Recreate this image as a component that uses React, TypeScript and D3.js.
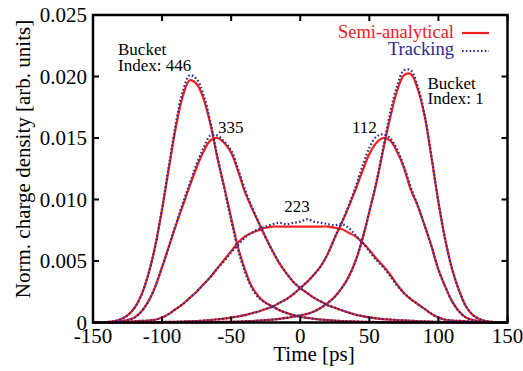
import React from "react";
import * as d3 from "d3";

// ---- data ----
const TIME = [
  -150, -145, -140, -135, -130, -125, -120, -115, -110, -105, -100, -95, -90, -85, -80, -75, -70, -65, -60, -55,
  -50, -45, -40, -35, -30, -25, -20, -15, -10, -5, 0, 5, 10, 15, 20, 25, 30, 35, 40, 45,
  50, 55, 60, 65, 70, 75, 80, 85, 90, 95, 100, 105, 110, 115, 120, 125, 130, 135, 140, 145, 150,
];

const SEMI_446 = [
  0, 0.00001, 0.00004, 0.0001, 0.00026, 0.00058, 0.00118, 0.00223, 0.0039, 0.0062, 0.0092, 0.0126, 0.0159, 0.0184, 0.0197, 0.0194, 0.0182, 0.0161, 0.0134, 0.011,
  0.0085, 0.0061, 0.0043, 0.0029, 0.0021, 0.0016, 0.0013, 0.001, 0.00078, 0.0006, 0.00047, 0.00038, 0.0003, 0.00024, 0.00019, 0.00015, 0.00012, 0.0001, 0.00008, 0.00006,
  0.00005, 0.00004, 0.00003, 0.00002, 0.00001, 0, 0, 0, 0, 0, 0, 0, 0, 0, 0, 0, 0, 0, 0, 0, 0,
];
const SEMI_335 = [
  0, 0.00001, 0.00002, 0.00005, 0.0001, 0.0002, 0.0004, 0.0009, 0.0017, 0.0029, 0.0045, 0.0062, 0.0079, 0.0095, 0.0111, 0.0126, 0.0139, 0.0148, 0.015, 0.0146,
  0.0138, 0.0123, 0.0106, 0.0093, 0.0081, 0.0069, 0.0058, 0.0048, 0.004, 0.0033, 0.0028, 0.0024, 0.002, 0.0017, 0.0014, 0.0012, 0.001, 0.0008, 0.00064, 0.00052,
  0.00042, 0.00034, 0.00028, 0.00024, 0.0002, 0.00017, 0.00014, 0.00011, 0.00009, 0.00007, 0.00005, 0.00004, 0.00003, 0.00002, 0.00002, 0.00001, 0.00001, 0, 0, 0, 0,
];
const SEMI_223 = [
  0, 0, 0.00001, 0.00002, 0.00004, 0.00006, 0.0001, 0.00013, 0.00016, 0.00022, 0.0004, 0.0007, 0.0011, 0.0015, 0.002, 0.0025, 0.0031, 0.0037, 0.0044, 0.0051,
  0.0058, 0.0065, 0.007, 0.0073, 0.0075, 0.0077, 0.0078, 0.0078, 0.0078, 0.0078, 0.0078, 0.0078, 0.0078, 0.0078, 0.0078, 0.0077, 0.0076, 0.0073, 0.007, 0.0065,
  0.0059, 0.0052, 0.0046, 0.0039, 0.0031, 0.0024, 0.0019, 0.0015, 0.0011, 0.0007, 0.0004, 0.00022, 0.00016, 0.00013, 0.0001, 0.00006, 0.00004, 0.00002, 0.00001, 0, 0,
];
const SEMI_112 = [
  0, 0, 0, 0, 0, 0.00001, 0.00001, 0.00002, 0.00002, 0.00003, 0.00004, 0.00005, 0.00006, 0.00008, 0.0001, 0.00012, 0.00015, 0.0002, 0.00026, 0.00032,
  0.0004, 0.0005, 0.0006, 0.00075, 0.0009, 0.0011, 0.0013, 0.0016, 0.0019, 0.0023, 0.0028, 0.0033, 0.0039, 0.0046, 0.0056, 0.0069, 0.0081, 0.0094, 0.0108, 0.0123,
  0.0137, 0.0146, 0.015, 0.0148, 0.0139, 0.0126, 0.0108, 0.0095, 0.0079, 0.0062, 0.0043, 0.0029, 0.0017, 0.0009, 0.0004, 0.0002, 0.0001, 0.00005, 0.00002, 0.00001, 0,
];
const SEMI_1 = [
  0, 0, 0, 0, 0, 0, 0, 0, 0, 0, 0, 0, 0, 0, 0, 0.00001, 0.00002, 0.00003, 0.00004, 0.00005,
  0.00006, 0.00008, 0.0001, 0.00012, 0.00015, 0.00019, 0.00024, 0.0003, 0.00038, 0.00047, 0.00058, 0.0007, 0.0009, 0.0012, 0.0016, 0.0021, 0.0028, 0.0037, 0.005, 0.0068,
  0.009, 0.0113, 0.014, 0.0166, 0.0188, 0.0201, 0.0202, 0.019, 0.0168, 0.0134, 0.0098, 0.0067, 0.0043, 0.0026, 0.0013, 0.0006, 0.00026, 0.0001, 0.00004, 0.00001, 0,
];

const TRACK_446 = [
  0, 0.00001, 0.00004, 0.0001, 0.00026, 0.00058, 0.00118, 0.00223, 0.0039, 0.0062, 0.0093, 0.0128, 0.0162, 0.0188, 0.0201, 0.0198, 0.0185, 0.0163, 0.0135, 0.0109,
  0.0083, 0.0059, 0.0041, 0.0028, 0.002, 0.0016, 0.0013, 0.001, 0.00078, 0.0006, 0.00047, 0.00038, 0.0003, 0.00024, 0.00019, 0.00015, 0.00012, 0.0001, 0.00008, 0.00006,
  0.00005, 0.00004, 0.00003, 0.00002, 0.00001, 0, 0, 0, 0, 0, 0, 0, 0, 0, 0, 0, 0, 0, 0, 0, 0,
];
const TRACK_335 = [
  0, 0.00001, 0.00002, 0.00005, 0.0001, 0.0002, 0.0004, 0.0009, 0.0017, 0.0029, 0.0045, 0.0062, 0.008, 0.0097, 0.0113, 0.0129, 0.0142, 0.0152, 0.0152, 0.0147,
  0.014, 0.0125, 0.0108, 0.0094, 0.0081, 0.0069, 0.0058, 0.0048, 0.004, 0.0033, 0.0028, 0.0024, 0.002, 0.0017, 0.0014, 0.0012, 0.001, 0.0008, 0.00064, 0.00052,
  0.00042, 0.00034, 0.00028, 0.00024, 0.0002, 0.00017, 0.00014, 0.00011, 0.00009, 0.00007, 0.00005, 0.00004, 0.00003, 0.00002, 0.00002, 0.00001, 0.00001, 0, 0, 0, 0,
];
const TRACK_223 = [
  0, 0, 0.00001, 0.00002, 0.00004, 0.00006, 0.0001, 0.00013, 0.00016, 0.00022, 0.0004, 0.0007, 0.0011, 0.0015, 0.002, 0.0025, 0.0031, 0.0037, 0.0044, 0.005,
  0.0057, 0.0063, 0.0069, 0.0073, 0.0076, 0.0078, 0.008, 0.0081, 0.008, 0.0081, 0.0082, 0.0084, 0.0082, 0.0081, 0.008, 0.0079, 0.008, 0.0077, 0.0071, 0.0065,
  0.0058, 0.0051, 0.0045, 0.0038, 0.003, 0.0024, 0.0019, 0.0015, 0.0011, 0.0007, 0.0004, 0.00022, 0.00016, 0.00013, 0.0001, 0.00006, 0.00004, 0.00002, 0.00001, 0, 0,
];
const TRACK_112 = [
  0, 0, 0, 0, 0, 0.00001, 0.00001, 0.00002, 0.00002, 0.00003, 0.00004, 0.00005, 0.00006, 0.00008, 0.0001, 0.00012, 0.00015, 0.0002, 0.00026, 0.00032,
  0.0004, 0.0005, 0.0006, 0.00075, 0.0009, 0.0011, 0.0013, 0.0016, 0.0019, 0.0023, 0.0028, 0.0033, 0.0039, 0.0046, 0.0056, 0.0069, 0.0081, 0.0095, 0.011, 0.0127,
  0.0142, 0.0151, 0.0153, 0.015, 0.0141, 0.0127, 0.011, 0.0095, 0.0079, 0.0062, 0.0043, 0.0029, 0.0017, 0.0009, 0.0004, 0.0002, 0.0001, 0.00005, 0.00002, 0.00001, 0,
];
const TRACK_1 = [
  0, 0, 0, 0, 0, 0, 0, 0, 0, 0, 0, 0, 0, 0, 0, 0.00001, 0.00002, 0.00003, 0.00004, 0.00005,
  0.00006, 0.00008, 0.0001, 0.00012, 0.00015, 0.00019, 0.00024, 0.0003, 0.00038, 0.00047, 0.00058, 0.0007, 0.0009, 0.0012, 0.0016, 0.0021, 0.0028, 0.0037, 0.005, 0.0068,
  0.009, 0.0114, 0.0142, 0.017, 0.0192, 0.0205, 0.0205, 0.0192, 0.0169, 0.0135, 0.0098, 0.0067, 0.0043, 0.0026, 0.0013, 0.0006, 0.00026, 0.0001, 0.00004, 0.00001, 0,
];

const SEMI_SERIES = [SEMI_446, SEMI_335, SEMI_223, SEMI_112, SEMI_1];
const TRACK_SERIES = [TRACK_446, TRACK_335, TRACK_223, TRACK_112, TRACK_1];

const X_TICKS = [-150, -100, -50, 0, 50, 100, 150];
const Y_TICKS = [0, 0.005, 0.01, 0.015, 0.02, 0.025];
const Y_TICK_LABELS = ["0", "0.005", "0.010", "0.015", "0.020", "0.025"];

const LEGEND_LABELS = ["Semi-analytical", "Tracking"];
const X_TITLE = "Time [ps]";
const Y_TITLE = "Norm. charge density [arb. units]";

// ---- layout ----
const W = 523;
const H = 371;
const L = 93;
const R = 507.5;
const T = 15;
const B = 322.5;
const RED = "#f02020";
const BLUE = "#2a2a90";
const FONT = "Liberation Serif, Times New Roman, serif";
const txt = { fontFamily: FONT, fontWeight: 400 as const };

export default function App() {
  const x = d3.scaleLinear().domain([-150, 150]).range([L, R]);
  const y = d3.scaleLinear().domain([0, 0.025]).range([B, T]);
  const line = d3
    .line<number>()
    .x((_, i) => x(TIME[i]))
    .y((v) => y(v))
    .curve(d3.curveCatmullRom.alpha(0.5));

  const tick = 6;
  return (
    <svg
      width={W}
      height={H}
      style={{ position: "absolute", left: 0, top: 0, background: "#fff", fontFamily: FONT }}
    >
      <rect x={0} y={0} width={W} height={H} fill="#fff" />
      {SEMI_SERIES.map((s, k) => (
        <path key={"s" + k} d={line(s) || ""} fill="none" stroke={RED} strokeWidth={2.2} />
      ))}
      {TRACK_SERIES.map((s, k) => (
        <path
          key={"t" + k}
          d={line(s) || ""}
          fill="none"
          stroke={BLUE}
          strokeWidth={2.2}
          strokeDasharray="1.6 2.2"
        />
      ))}

      {/* frame */}
      <rect x={L} y={T} width={R - L} height={B - T} fill="none" stroke="#000" strokeWidth={2.5} />
      {X_TICKS.map((t) => (
        <g key={"xt" + t}>
          <line x1={x(t)} x2={x(t)} y1={B} y2={B - tick} stroke="#000" strokeWidth={2} />
          <line x1={x(t)} x2={x(t)} y1={T} y2={T + tick} stroke="#000" strokeWidth={2} />
          <text x={x(t)} y={343} textAnchor="middle" fontSize={21} style={txt}>
            {t}
          </text>
        </g>
      ))}
      {Y_TICKS.map((t, i) => (
        <g key={"yt" + i}>
          <line x1={L} x2={L + tick} y1={y(t)} y2={y(t)} stroke="#000" strokeWidth={2} />
          <line x1={R} x2={R - tick} y1={y(t)} y2={y(t)} stroke="#000" strokeWidth={2} />
          <text x={87} y={y(t) + 7} textAnchor="end" fontSize={21} style={txt}>
            {Y_TICK_LABELS[i]}
          </text>
        </g>
      ))}

      <text x={314} y={361} textAnchor="middle" fontSize={21} style={txt}>
        {X_TITLE}
      </text>
      <text transform="translate(30,159) rotate(-90)" textAnchor="middle" fontSize={21} style={txt}>
        {Y_TITLE}
      </text>

      {/* legend */}
      <text x={454} y={38} textAnchor="end" fontSize={18.5} fill={RED} style={txt}>
        {LEGEND_LABELS[0]}
      </text>
      <line x1={462} x2={489} y1={33} y2={33} stroke={RED} strokeWidth={2.2} />
      <text x={454} y={55} textAnchor="end" fontSize={18.5} fill={BLUE} style={txt}>
        {LEGEND_LABELS[1]}
      </text>
      <line x1={462} x2={489} y1={51} y2={51} stroke={BLUE} strokeWidth={2.2} strokeDasharray="1.6 2.2" />

      {/* annotations */}
      <text x={118} y={55} fontSize={17} style={txt}>Bucket</text>
      <text x={118} y={70.5} fontSize={17} style={txt}>Index: 446</text>
      <text x={427.5} y={89} fontSize={17} style={txt}>Bucket</text>
      <text x={427.5} y={103.5} fontSize={17} style={txt}>Index: 1</text>
      <text x={218} y={132.5} fontSize={17} style={txt}>335</text>
      <text x={352} y={133} fontSize={17} style={txt}>112</text>
      <text x={297} y={211.5} textAnchor="middle" fontSize={17} style={txt}>223</text>
    </svg>
  );
}
